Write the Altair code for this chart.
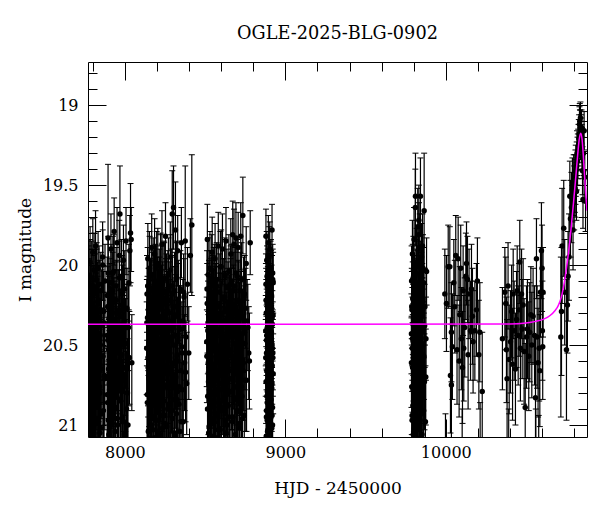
import altair as alt
import pandas as pd

FONT = "DejaVu Serif"

# ---- season 2017 ----
t1 = [7772, 7774, 7776, 7777, 7779, 7781, 7783, 7784, 7786, 7788,
      7790, 7791, 7793, 7795, 7797, 7798, 7800, 7802, 7804, 7806,
      7807, 7809, 7811, 7813, 7815, 7817, 7819, 7821, 7823, 7825,
      7827, 7829, 7831, 7833, 7835, 7838, 7840, 7842, 7845, 7847,
      7850, 7852, 7855, 7858, 7861, 7864, 7867, 7870, 7873, 7876,
      7889, 7891, 7893, 7895, 7897, 7899, 7901, 7903, 7905, 7907,
      7909, 7911, 7913, 7915, 7917, 7919, 7921, 7923, 7925, 7927,
      7929, 7931, 7933, 7935, 7937, 7939, 7941, 7943, 7945, 7947,
      7949, 7951, 7953, 7955, 7957, 7959, 7961, 7963, 7965, 7967,
      7969, 7971, 7973, 7975, 7977, 7979, 7981, 7983, 7985, 7987,
      7989, 7991, 7993, 7995, 7997, 7999, 8001, 8004, 8007, 8010,
      8013, 8016, 8019, 8022, 8025, 8028, 8031, 8035, 8039, 8043]
m1 = [20.45, 20.12, 20.78, 20.31, 21.02, 20.55, 19.98, 20.67, 20.24, 20.89,
      20.41, 21.15, 20.08, 20.62, 20.35, 20.95, 19.92, 20.51, 20.73, 20.18,
      21.08, 20.39, 20.84, 20.27, 20.58, 19.88, 20.99, 20.46, 20.14, 20.71,
      21.20, 20.33, 20.60, 20.02, 20.87, 20.43, 20.22, 20.76, 21.05, 20.50,
      20.16, 20.65, 20.37, 20.93, 19.95, 20.57, 20.29, 21.12, 20.69, 20.10,
      20.81, 20.44, 20.26, 19.83, 20.97, 20.53, 20.36, 20.74, 21.01, 20.20,
      20.63, 20.40, 19.90, 20.86, 20.48, 21.18, 20.30, 20.70, 20.05, 20.59,
      20.91, 20.34, 19.79, 20.66, 20.23, 21.04, 20.47, 20.82, 20.13, 20.55,
      20.38, 19.86, 20.96, 20.61, 20.28, 20.75, 21.10, 20.42, 19.94, 20.52,
      19.68, 20.68, 20.85, 20.32, 21.14, 20.07, 20.56, 20.79, 20.25, 20.98,
      20.44, 19.97, 20.72, 20.35, 21.06, 20.15, 20.64, 20.49, 19.85, 20.90,
      20.27, 20.80, 21.00, 20.39, 20.11, 20.58, 19.91, 19.80, 19.84, 20.61]
e1 = [0.27, 0.24, 0.33, 0.26, 0.38, 0.29, 0.22, 0.31, 0.25, 0.35,
      0.27, 0.41, 0.23, 0.30, 0.26, 0.36, 0.21, 0.28, 0.33, 0.24,
      0.39, 0.27, 0.34, 0.25, 0.29, 0.22, 0.37, 0.27, 0.24, 0.32,
      0.43, 0.26, 0.30, 0.23, 0.35, 0.27, 0.25, 0.33, 0.38, 0.28,
      0.24, 0.31, 0.26, 0.36, 0.22, 0.29, 0.25, 0.40, 0.31, 0.23,
      0.34, 0.27, 0.25, 0.46, 0.37, 0.28, 0.26, 0.33, 0.38, 0.24,
      0.30, 0.27, 0.22, 0.35, 0.28, 0.42, 0.26, 0.31, 0.23, 0.29,
      0.36, 0.26, 0.21, 0.31, 0.25, 0.38, 0.27, 0.34, 0.24, 0.29,
      0.26, 0.22, 0.37, 0.30, 0.25, 0.33, 0.40, 0.27, 0.22, 0.28,
      0.30, 0.31, 0.35, 0.26, 0.41, 0.23, 0.29, 0.34, 0.25, 0.37,
      0.27, 0.22, 0.32, 0.26, 0.39, 0.24, 0.30, 0.28, 0.21, 0.36,
      0.25, 0.34, 0.38, 0.27, 0.24, 0.29, 0.22, 0.31, 0.20, 0.30]
t1b = [7773, 7775, 7778, 7780, 7782, 7785, 7787, 7789, 7792, 7794,
       7796, 7799, 7801, 7803, 7805, 7808, 7810, 7812, 7814, 7816,
       7818, 7820, 7822, 7824, 7826, 7828, 7830, 7832, 7834, 7836,
       7839, 7843, 7846, 7849, 7853, 7857, 7862, 7866, 7871, 7875,
       7890, 7892, 7894, 7896, 7898, 7900, 7902, 7904, 7906, 7908,
       7910, 7912, 7914, 7916, 7918, 7920, 7922, 7924, 7926, 7928,
       7930, 7934, 7938, 7942, 7946, 7950, 7954, 7958, 7962, 7966,
       7970, 7974, 7978, 7982, 7986, 7990, 7996, 8002, 8012, 8024]
m1b = [20.62, 20.21, 20.94, 20.48, 20.07, 20.83, 20.35, 21.03, 20.56, 20.14,
       20.77, 20.40, 20.98, 20.26, 20.69, 20.03, 20.88, 20.45, 20.17, 20.73,
       21.09, 20.31, 20.60, 20.09, 20.85, 20.51, 20.23, 20.96, 20.38, 20.67,
       20.12, 20.80, 20.44, 21.02, 20.28, 20.57, 20.00, 20.91, 20.36, 20.71,
       20.19, 20.86, 20.47, 20.05, 20.65, 21.06, 20.33, 20.78, 20.24, 20.54,
       20.93, 20.41, 20.11, 20.70, 20.30, 20.99, 20.59, 20.16, 20.82, 20.46,
       20.04, 20.75, 20.37, 20.89, 20.22, 20.63, 21.00, 20.29, 20.53, 20.08,
       20.84, 20.43, 20.67, 20.18, 20.95, 20.50, 20.27, 20.72, 20.39, 20.58]
e1b = [0.30, 0.25, 0.36, 0.28, 0.23, 0.34, 0.26, 0.38, 0.29, 0.24,
       0.33, 0.27, 0.37, 0.25, 0.31, 0.23, 0.35, 0.28, 0.24, 0.32,
       0.39, 0.26, 0.30, 0.23, 0.34, 0.28, 0.25, 0.37, 0.27, 0.31,
       0.24, 0.33, 0.28, 0.38, 0.25, 0.30, 0.22, 0.36, 0.26, 0.32,
       0.24, 0.34, 0.28, 0.23, 0.31, 0.39, 0.26, 0.33, 0.25, 0.29,
       0.36, 0.27, 0.24, 0.32, 0.26, 0.37, 0.30, 0.24, 0.34, 0.28,
       0.23, 0.33, 0.27, 0.35, 0.25, 0.30, 0.38, 0.26, 0.29, 0.23,
       0.34, 0.28, 0.31, 0.24, 0.36, 0.29, 0.25, 0.32, 0.27, 0.30]

# ---- season 2018 ----
t2 = [8136, 8138, 8140, 8141, 8143, 8145, 8147, 8149, 8150, 8152,
      8154, 8156, 8158, 8160, 8161, 8163, 8165, 8167, 8169, 8171,
      8173, 8175, 8177, 8179, 8181, 8183, 8185, 8187, 8189, 8191,
      8193, 8195, 8197, 8199, 8201, 8203, 8205, 8207, 8209, 8211,
      8213, 8215, 8217, 8219, 8221, 8223, 8225, 8227, 8229, 8231,
      8233, 8235, 8237, 8239, 8241, 8243, 8245, 8247, 8249, 8251,
      8253, 8255, 8257, 8259, 8261, 8263, 8265, 8267, 8269, 8271,
      8273, 8275, 8277, 8279, 8281, 8283, 8285, 8287, 8289, 8291,
      8293, 8295, 8297, 8299, 8301, 8303, 8305, 8307, 8309, 8311,
      8313, 8315, 8317, 8319, 8321, 8323, 8325, 8327, 8329, 8331,
      8334, 8337, 8340, 8343, 8346, 8349, 8352, 8355, 8358, 8361,
      8364, 8368, 8372, 8376, 8380, 8385, 8390, 8398, 8408, 8417]
m2 = [20.52, 20.18, 20.86, 20.33, 19.96, 20.64, 21.09, 20.27, 20.71, 20.43,
      20.05, 20.92, 20.38, 20.59, 21.16, 20.21, 20.77, 19.89, 20.48, 20.66,
      20.30, 21.03, 20.14, 20.55, 20.83, 20.40, 19.93, 20.69, 20.25, 20.97,
      20.46, 20.11, 20.74, 21.11, 20.36, 20.61, 19.99, 20.88, 20.28, 20.53,
      20.80, 20.19, 21.06, 20.42, 20.67, 20.03, 20.94, 20.34, 20.57, 19.87,
      20.72, 20.23, 20.49, 21.13, 20.37, 20.85, 20.09, 20.63, 20.31, 20.99,
      19.82, 20.45, 20.76, 20.17, 21.01, 20.54, 20.29, 20.90, 20.41, 20.06,
      20.68, 20.35, 21.19, 20.58, 20.22, 19.95, 20.81, 20.47, 20.13, 20.73,
      20.39, 19.68, 20.96, 20.26, 20.62, 19.64, 20.50, 20.84, 20.16, 21.07,
      20.44, 19.78, 20.70, 20.32, 20.93, 20.08, 20.56, 20.79, 19.91, 20.60,
      20.24, 20.87, 20.40, 21.04, 20.15, 20.66, 19.86, 20.51, 20.78, 20.35,
      20.98, 20.20, 20.61, 19.85, 20.45, 20.74, 20.12, 20.55, 19.94, 19.75]
e2 = [0.29, 0.24, 0.35, 0.26, 0.22, 0.31, 0.40, 0.25, 0.32, 0.27,
      0.23, 0.36, 0.26, 0.29, 0.42, 0.24, 0.33, 0.21, 0.28, 0.31,
      0.25, 0.38, 0.23, 0.29, 0.34, 0.27, 0.22, 0.31, 0.25, 0.37,
      0.28, 0.23, 0.33, 0.41, 0.26, 0.30, 0.22, 0.35, 0.25, 0.28,
      0.34, 0.24, 0.39, 0.27, 0.31, 0.23, 0.36, 0.26, 0.29, 0.21,
      0.32, 0.25, 0.28, 0.41, 0.26, 0.35, 0.23, 0.30, 0.25, 0.37,
      0.21, 0.27, 0.33, 0.24, 0.38, 0.29, 0.25, 0.36, 0.27, 0.23,
      0.31, 0.26, 0.43, 0.30, 0.24, 0.22, 0.34, 0.28, 0.23, 0.32,
      0.27, 0.27, 0.36, 0.25, 0.30, 0.26, 0.28, 0.34, 0.24, 0.39,
      0.27, 0.30, 0.32, 0.26, 0.36, 0.23, 0.29, 0.33, 0.22, 0.30,
      0.25, 0.35, 0.27, 0.38, 0.24, 0.31, 0.22, 0.28, 0.33, 0.26,
      0.37, 0.24, 0.30, 0.47, 0.27, 0.32, 0.23, 0.29, 0.23, 0.44]
t2b = [8137, 8139, 8142, 8144, 8146, 8148, 8151, 8153, 8155, 8157,
       8159, 8162, 8164, 8166, 8168, 8170, 8172, 8174, 8176, 8178,
       8180, 8182, 8184, 8186, 8188, 8190, 8192, 8194, 8196, 8198,
       8200, 8202, 8204, 8206, 8208, 8210, 8212, 8214, 8216, 8218,
       8220, 8222, 8224, 8226, 8228, 8230, 8232, 8234, 8236, 8238,
       8240, 8244, 8248, 8252, 8256, 8260, 8264, 8268, 8272, 8276,
       8280, 8284, 8288, 8292, 8296, 8300, 8304, 8308, 8312, 8316,
       8320, 8324, 8328, 8333, 8338, 8344, 8350, 8357, 8366, 8378]
m2b = [20.36, 20.81, 20.13, 20.58, 21.04, 20.27, 20.69, 20.02, 20.90, 20.47,
       20.20, 20.74, 20.41, 21.00, 20.16, 20.63, 20.32, 20.95, 20.06, 20.54,
       20.86, 20.23, 20.66, 20.44, 21.08, 20.10, 20.77, 20.35, 20.59, 20.01,
       20.92, 20.49, 20.19, 20.71, 20.28, 20.97, 20.52, 20.14, 20.83, 20.38,
       20.61, 20.04, 20.88, 20.46, 20.25, 20.79, 20.12, 21.02, 20.57, 20.33,
       20.68, 20.08, 20.94, 20.42, 20.21, 20.75, 20.50, 20.15, 20.87, 20.30,
       20.64, 20.03, 20.91, 20.45, 20.18, 20.72, 20.37, 21.05, 20.26, 20.60,
       20.09, 20.84, 20.48, 20.22, 20.76, 20.40, 20.98, 20.55, 20.17, 20.67]
e2b = [0.27, 0.34, 0.24, 0.30, 0.38, 0.25, 0.32, 0.23, 0.36, 0.28,
       0.24, 0.33, 0.27, 0.37, 0.24, 0.31, 0.26, 0.36, 0.23, 0.29,
       0.35, 0.25, 0.31, 0.28, 0.39, 0.23, 0.33, 0.26, 0.30, 0.22,
       0.36, 0.28, 0.24, 0.32, 0.25, 0.37, 0.29, 0.24, 0.34, 0.27,
       0.30, 0.23, 0.35, 0.28, 0.25, 0.33, 0.24, 0.38, 0.29, 0.26,
       0.31, 0.23, 0.36, 0.27, 0.25, 0.33, 0.28, 0.24, 0.35, 0.26,
       0.31, 0.22, 0.36, 0.28, 0.24, 0.32, 0.27, 0.38, 0.25, 0.30,
       0.23, 0.34, 0.28, 0.25, 0.33, 0.27, 0.37, 0.29, 0.24, 0.31]

# ---- season 2019 ----
t3 = [8510, 8512, 8514, 8516, 8518, 8520, 8522, 8524, 8526, 8528,
      8530, 8532, 8534, 8536, 8538, 8540, 8542, 8544, 8546, 8548,
      8550, 8552, 8554, 8556, 8558, 8560, 8562, 8564, 8566, 8568,
      8570, 8572, 8574, 8576, 8578, 8580, 8582, 8584, 8586, 8588,
      8590, 8592, 8594, 8596, 8598, 8600, 8602, 8604, 8606, 8608,
      8610, 8612, 8614, 8616, 8618, 8620, 8622, 8624, 8626, 8628,
      8630, 8632, 8634, 8636, 8638, 8640, 8642, 8644, 8646, 8648,
      8650, 8652, 8654, 8656, 8658, 8660, 8662, 8664, 8666, 8668,
      8670, 8672, 8674, 8676, 8678, 8680, 8682, 8684, 8686, 8688,
      8690, 8692, 8694, 8696, 8698, 8700, 8702, 8704, 8706, 8708,
      8710, 8712, 8714, 8716, 8718, 8720, 8722, 8724, 8726, 8729,
      8732, 8735, 8738, 8742, 8746, 8750, 8756, 8762, 8772, 8781]
m3 = [20.48, 20.15, 19.84, 20.82, 20.36, 20.61, 21.05, 20.22, 20.70, 20.41,
      20.02, 20.89, 20.33, 20.57, 21.12, 20.19, 20.75, 19.92, 20.46, 20.64,
      20.28, 20.99, 20.12, 20.53, 20.80, 20.38, 19.96, 20.67, 20.24, 20.94,
      20.43, 20.09, 20.72, 21.08, 20.34, 20.59, 19.88, 20.86, 20.26, 20.51,
      20.78, 20.17, 21.03, 20.40, 20.65, 20.01, 20.91, 20.31, 20.55, 19.90,
      20.69, 20.21, 20.47, 21.15, 20.35, 20.83, 20.06, 20.62, 20.29, 20.97,
      19.85, 20.44, 20.73, 20.14, 21.00, 20.52, 20.27, 20.88, 20.39, 20.04,
      20.66, 20.32, 21.17, 20.56, 20.20, 19.93, 20.79, 20.45, 20.10, 20.71,
      20.37, 19.81, 20.95, 20.25, 20.60, 19.87, 20.49, 20.84, 20.13, 21.06,
      20.42, 19.83, 20.68, 20.30, 20.92, 20.07, 20.54, 20.77, 19.89, 20.58,
      20.23, 20.85, 20.38, 21.02, 20.16, 20.63, 19.82, 20.50, 20.76, 20.33,
      20.96, 19.69, 20.61, 20.40, 20.18, 20.72, 19.99, 20.35, 20.55, 19.86]
e3 = [0.28, 0.24, 0.22, 0.34, 0.26, 0.30, 0.38, 0.25, 0.32, 0.27,
      0.23, 0.35, 0.26, 0.29, 0.41, 0.24, 0.33, 0.22, 0.28, 0.31,
      0.25, 0.37, 0.23, 0.29, 0.34, 0.27, 0.22, 0.31, 0.25, 0.36,
      0.28, 0.23, 0.32, 0.40, 0.26, 0.30, 0.21, 0.35, 0.25, 0.28,
      0.33, 0.24, 0.38, 0.27, 0.31, 0.23, 0.36, 0.26, 0.29, 0.22,
      0.32, 0.25, 0.28, 0.42, 0.26, 0.34, 0.23, 0.30, 0.25, 0.37,
      0.21, 0.27, 0.33, 0.24, 0.38, 0.29, 0.25, 0.35, 0.27, 0.23,
      0.31, 0.26, 0.43, 0.30, 0.24, 0.22, 0.34, 0.28, 0.23, 0.32,
      0.27, 0.21, 0.36, 0.25, 0.30, 0.22, 0.28, 0.34, 0.24, 0.39,
      0.27, 0.22, 0.32, 0.26, 0.36, 0.23, 0.29, 0.33, 0.22, 0.30,
      0.25, 0.35, 0.27, 0.38, 0.24, 0.31, 0.21, 0.28, 0.33, 0.26,
      0.37, 0.24, 0.30, 0.27, 0.24, 0.32, 0.23, 0.26, 0.29, 0.20]
t3b = [8511, 8513, 8515, 8517, 8519, 8521, 8523, 8525, 8527, 8529,
       8531, 8533, 8535, 8537, 8539, 8541, 8543, 8545, 8547, 8549,
       8551, 8553, 8555, 8557, 8559, 8561, 8563, 8565, 8567, 8569,
       8571, 8575, 8579, 8583, 8587, 8591, 8595, 8599, 8603, 8607,
       8611, 8615, 8619, 8623, 8627, 8631, 8635, 8639, 8643, 8647,
       8651, 8655, 8659, 8663, 8667, 8671, 8675, 8679, 8683, 8687,
       8691, 8695, 8699, 8703, 8707, 8711, 8715, 8719, 8723, 8727,
       8730, 8733, 8736, 8740, 8744, 8748, 8752, 8758, 8766, 8776]
m3b = [20.57, 20.24, 20.90, 20.41, 20.06, 20.73, 20.32, 21.01, 20.50, 20.15,
       20.84, 20.38, 20.96, 20.21, 20.66, 20.03, 20.87, 20.44, 20.18, 20.70,
       21.07, 20.29, 20.62, 20.10, 20.81, 20.47, 20.26, 20.93, 20.35, 20.68,
       20.13, 20.78, 20.42, 21.03, 20.31, 20.55, 20.01, 20.89, 20.37, 20.74,
       20.20, 20.85, 20.48, 20.07, 20.64, 21.05, 20.34, 20.79, 20.23, 20.53,
       20.95, 20.40, 20.12, 20.71, 20.28, 20.98, 20.58, 20.16, 20.83, 20.45,
       20.05, 20.76, 20.36, 20.91, 20.22, 20.61, 20.99, 20.30, 20.52, 20.09,
       20.82, 20.43, 20.66, 20.19, 20.94, 20.49, 20.27, 20.72, 20.39, 20.60]
e3b = [0.29, 0.25, 0.35, 0.27, 0.23, 0.33, 0.26, 0.37, 0.28, 0.24,
       0.34, 0.27, 0.36, 0.25, 0.31, 0.22, 0.35, 0.28, 0.24, 0.32,
       0.38, 0.26, 0.30, 0.23, 0.33, 0.28, 0.25, 0.36, 0.27, 0.31,
       0.24, 0.33, 0.28, 0.37, 0.26, 0.29, 0.22, 0.35, 0.27, 0.32,
       0.24, 0.34, 0.28, 0.23, 0.30, 0.38, 0.26, 0.33, 0.25, 0.29,
       0.36, 0.27, 0.24, 0.32, 0.26, 0.37, 0.29, 0.24, 0.34, 0.28,
       0.23, 0.33, 0.27, 0.35, 0.25, 0.30, 0.37, 0.26, 0.29, 0.23,
       0.34, 0.28, 0.31, 0.24, 0.36, 0.29, 0.25, 0.32, 0.27, 0.30]

# ---- season 2020 ----
t4 = [8878, 8879, 8880, 8881, 8882, 8883, 8884, 8885, 8886, 8887,
      8888, 8889, 8890, 8891, 8892, 8893, 8894, 8895, 8896, 8897,
      8898, 8899, 8900, 8901, 8902, 8903, 8904, 8905, 8906, 8907,
      8908, 8909, 8910, 8911, 8912, 8913, 8914, 8915, 8916, 8917,
      8918, 8919, 8920, 8921, 8922, 8923, 8924, 8879, 8883, 8887,
      8891, 8895, 8899, 8903, 8907, 8911, 8915, 8919, 8881, 8909]
m4 = [20.41, 20.12, 20.73, 20.30, 20.95, 20.55, 19.97, 20.66, 20.24, 20.86,
      20.39, 21.04, 20.08, 20.60, 20.33, 20.92, 19.86, 20.49, 20.78, 20.18,
      21.10, 20.36, 20.81, 20.27, 20.57, 19.90, 20.99, 20.44, 20.14, 20.70,
      20.21, 20.53, 20.02, 20.84, 20.46, 20.26, 20.75, 21.02, 20.50, 19.78,
      20.63, 20.37, 20.89, 20.05, 20.58, 20.31, 20.68, 19.82, 20.47, 20.97,
      20.20, 20.62, 19.94, 20.85, 20.40, 20.10, 20.77, 20.52, 21.07, 20.29]
e4 = [0.22, 0.19, 0.26, 0.21, 0.30, 0.23, 0.18, 0.25, 0.20, 0.28,
      0.22, 0.32, 0.18, 0.24, 0.21, 0.29, 0.17, 0.23, 0.27, 0.19,
      0.33, 0.21, 0.27, 0.20, 0.24, 0.17, 0.31, 0.22, 0.19, 0.26,
      0.20, 0.23, 0.18, 0.28, 0.22, 0.20, 0.26, 0.31, 0.23, 0.16,
      0.24, 0.21, 0.29, 0.18, 0.24, 0.21, 0.25, 0.17, 0.22, 0.30,
      0.19, 0.24, 0.18, 0.28, 0.22, 0.19, 0.27, 0.23, 0.33, 0.20]
t4b = [8878, 8880, 8882, 8884, 8886, 8888, 8890, 8892, 8894, 8896,
       8898, 8900, 8902, 8904, 8906, 8908, 8910, 8912, 8914, 8916,
       8918, 8920, 8922, 8924, 8885, 8893, 8901, 8913, 8917, 8921]
m4b = [20.58, 20.22, 20.91, 20.44, 20.07, 20.79, 20.35, 21.03, 20.52, 20.15,
       20.69, 20.28, 20.96, 20.40, 20.61, 20.03, 20.87, 20.48, 20.19, 20.74,
       20.33, 21.00, 20.55, 20.11, 20.82, 20.25, 20.65, 20.42, 20.94, 20.09]
e4b = [0.24, 0.20, 0.29, 0.22, 0.19, 0.27, 0.21, 0.32, 0.23, 0.19,
       0.25, 0.21, 0.30, 0.22, 0.24, 0.18, 0.28, 0.23, 0.19, 0.26,
       0.21, 0.31, 0.23, 0.19, 0.27, 0.20, 0.25, 0.22, 0.30, 0.19]

# ---- season 2022 ----
t5 = [9786, 9787, 9788, 9789, 9790, 9791, 9792, 9793, 9794, 9795,
      9796, 9797, 9798, 9799, 9800, 9801, 9802, 9803, 9804, 9805,
      9806, 9807, 9808, 9809, 9810, 9811, 9812, 9813, 9814, 9815,
      9816, 9817, 9818, 9819, 9820, 9821, 9822, 9823, 9824, 9825,
      9826, 9827, 9828, 9829, 9830, 9831, 9832, 9833, 9834, 9835,
      9836, 9837, 9838, 9839, 9840, 9841, 9842, 9843, 9844, 9845,
      9846, 9847, 9848, 9849, 9850, 9851, 9852, 9853, 9854, 9855,
      9857, 9859, 9861, 9863, 9865, 9867, 9870, 9873, 9876, 9880]
m5 = [20.43, 20.10, 20.76, 20.28, 20.97, 20.52, 19.93, 20.64, 20.21, 20.88,
      20.37, 21.06, 20.03, 20.58, 20.31, 20.91, 19.84, 20.47, 20.72, 20.16,
      21.11, 20.34, 20.83, 20.25, 20.55, 19.57, 20.99, 20.42, 20.12, 20.69,
      20.19, 20.51, 19.98, 20.86, 20.44, 20.23, 20.74, 21.03, 20.48, 19.76,
      20.61, 20.35, 20.90, 20.01, 20.56, 20.29, 20.67, 19.81, 20.45, 20.95,
      20.18, 20.60, 19.89, 20.84, 20.38, 20.07, 19.57, 20.53, 21.08, 20.27,
      20.70, 20.14, 20.79, 19.95, 20.49, 20.32, 20.93, 20.22, 20.65, 19.88,
      20.40, 20.81, 20.11, 20.57, 19.66, 20.73, 20.26, 20.98, 20.46, 20.04]
e5 = [0.25, 0.22, 0.30, 0.24, 0.34, 0.27, 0.21, 0.28, 0.23, 0.32,
      0.25, 0.37, 0.21, 0.27, 0.24, 0.33, 0.20, 0.26, 0.30, 0.22,
      0.38, 0.24, 0.31, 0.23, 0.27, 0.27, 0.35, 0.25, 0.22, 0.29,
      0.23, 0.26, 0.21, 0.32, 0.25, 0.23, 0.30, 0.36, 0.26, 0.24,
      0.28, 0.24, 0.33, 0.21, 0.27, 0.24, 0.29, 0.20, 0.26, 0.34,
      0.22, 0.28, 0.21, 0.32, 0.25, 0.22, 0.24, 0.27, 0.37, 0.24,
      0.29, 0.22, 0.31, 0.21, 0.26, 0.24, 0.33, 0.23, 0.28, 0.20,
      0.25, 0.31, 0.22, 0.27, 0.36, 0.30, 0.24, 0.35, 0.26, 0.21]
t5b = [9786, 9788, 9790, 9792, 9794, 9796, 9798, 9800, 9802, 9804,
       9806, 9808, 9810, 9812, 9814, 9816, 9818, 9820, 9822, 9824,
       9826, 9828, 9830, 9832, 9834, 9836, 9838, 9840, 9842, 9844,
       9846, 9848, 9850, 9852, 9854, 9856, 9858, 9862, 9868, 9875]
m5b = [20.61, 20.26, 20.94, 20.46, 20.09, 20.78, 20.33, 21.04, 20.53, 20.17,
       20.86, 20.40, 19.64, 20.22, 20.68, 20.05, 20.89, 20.48, 20.14, 20.72,
       21.01, 20.30, 20.59, 19.72, 20.83, 20.44, 20.20, 20.97, 20.36, 20.65,
       20.11, 20.80, 20.42, 21.06, 20.27, 20.56, 20.02, 20.91, 20.38, 20.70]
e5b = [0.28, 0.24, 0.33, 0.26, 0.22, 0.30, 0.25, 0.36, 0.27, 0.23,
       0.32, 0.26, 0.24, 0.24, 0.29, 0.21, 0.33, 0.27, 0.23, 0.30,
       0.35, 0.25, 0.28, 0.22, 0.31, 0.26, 0.23, 0.34, 0.25, 0.29,
       0.22, 0.31, 0.26, 0.37, 0.24, 0.28, 0.21, 0.33, 0.26, 0.30]

# ---- season 2023 ----
t6 = [9994, 10004, 10015, 10025, 10029, 10035, 10035, 10041, 10050, 10056,
      10062, 10070, 10077, 10083, 10087, 10093, 10097, 10104, 10108, 10112,
      10118, 10125, 10129, 10135, 10139, 10145, 10154, 10160, 10166, 10170,
      10181, 10191, 10197, 10206, 10212, 10227, 9998, 10102, 10214]
m6 = [20.18, 20.24, 20.01, 20.01, 20.69, 20.75, 20.42, 20.51, 20.11, 20.26,
      19.94, 20.53, 19.96, 20.60, 20.31, 20.02, 20.46, 20.64, 20.16, 20.52,
      20.39, 20.07, 19.99, 20.09, 20.56, 20.18, 20.41, 20.15, 20.32, 20.48,
      20.41, 20.28, 20.10, 20.56, 20.42, 20.79, 21.25, 21.20, 21.18]
e6 = [0.28, 0.30, 0.26, 0.25, 0.36, 0.38, 0.31, 0.33, 0.27, 0.29,
      0.25, 0.34, 0.26, 0.35, 0.30, 0.27, 0.32, 0.35, 0.28, 0.33,
      0.31, 0.27, 0.26, 0.27, 0.34, 0.28, 0.31, 0.28, 0.30, 0.32,
      0.31, 0.29, 0.27, 0.34, 0.31, 0.37, 0.32, 0.30, 0.32]

# ---- season 2024 ----
t7 = [10353, 10368, 10374, 10378, 10382, 10388, 10395, 10403, 10410, 10416,
      10420, 10426, 10434, 10441, 10445, 10451, 10457, 10461, 10465, 10472,
      10476, 10482, 10488, 10495, 10503, 10509, 10517, 10523, 10530, 10536,
      10544, 10553, 10559, 10565, 10569, 10575, 10582, 10586, 10590, 10596,
      10600, 10602, 10604, 10606, 10392, 10561, 10579]
m7 = [20.46, 20.17, 20.24, 20.53, 20.71, 20.13, 20.59, 20.48, 20.29, 20.62,
      20.18, 20.41, 20.65, 20.34, 20.16, 20.44, 20.28, 19.98, 20.52, 20.18,
      20.40, 20.25, 20.54, 20.89, 20.45, 20.40, 20.57, 20.42, 20.31, 20.50,
      20.32, 20.44, 20.83, 19.96, 20.45, 20.61, 20.52, 20.66, 20.17, 19.91,
      20.02, 20.41, 20.51, 20.17, 21.22, 21.20, 21.25]
e7 = [0.32, 0.28, 0.29, 0.33, 0.37, 0.27, 0.34, 0.32, 0.29, 0.35,
      0.28, 0.31, 0.35, 0.30, 0.28, 0.31, 0.29, 0.26, 0.33, 0.28,
      0.31, 0.29, 0.33, 0.40, 0.32, 0.31, 0.34, 0.31, 0.30, 0.33,
      0.30, 0.31, 0.39, 0.25, 0.32, 0.34, 0.33, 0.35, 0.28, 0.30,
      0.27, 0.31, 0.33, 0.28, 0.32, 0.30, 0.31]

# ---- season 2025 (event) ----
t8 = [10717, 10721, 10725, 10735, 10741, 10752, 10758, 10762, 10768, 10773,
      10777, 10783, 10789, 10793, 10797, 10804, 10808, 10810, 10814, 10818,
      10821, 10825, 10827, 10831, 10833, 10835, 10838, 10841, 10844, 10846,
      10849, 10852, 10855, 10858, 10862, 10866, 10871,
      10829, 10836, 10843, 10847, 10851, 10839, 10823, 10816, 10806, 10800]
m8 = [20.45, 20.29, 19.88, 19.77, 20.17, 20.53, 20.25, 20.07, 19.95, 19.57,
      19.71, 19.64, 19.53, 19.78, 19.50, 19.49, 19.45, 19.41, 19.54, 19.30,
      19.35, 19.28, 19.25, 19.18, 19.12, 19.10, 19.15, 19.22, 19.20, 19.14,
      19.27, 19.41, 19.59, 19.30, 19.16, 19.45, 19.60,
      19.21, 19.14, 19.17, 19.24, 19.33, 19.08, 19.32, 19.38, 19.52, 19.58]
e8 = [0.50, 0.40, 0.36, 0.30, 0.33, 0.44, 0.30, 0.28, 0.27, 0.22,
      0.24, 0.22, 0.20, 0.25, 0.19, 0.18, 0.17, 0.16, 0.18, 0.14,
      0.15, 0.13, 0.13, 0.12, 0.11, 0.11, 0.12, 0.12, 0.12, 0.11,
      0.13, 0.15, 0.18, 0.14, 0.12, 0.16, 0.19,
      0.12, 0.11, 0.11, 0.12, 0.13, 0.10, 0.14, 0.15, 0.18, 0.20]

# ---- model curve ----
model_t = [7770, 10400, 10500, 10560, 10610, 10650, 10680, 10700, 10720, 10740,
           10760, 10780, 10795, 10810, 10822, 10832, 10841, 10850, 10858, 10866,
           10874, 10880]
model_m = [20.37, 20.368, 20.362, 20.352, 20.338, 20.315, 20.285, 20.255, 20.20, 20.10,
           19.96, 19.78, 19.62, 19.45, 19.31, 19.21, 19.175, 19.22, 19.33, 19.46,
           19.58, 19.66]

# ---- axis ticks ----
x_major = [8000, 9000, 10000]
x_minor = [7800, 8200, 8400, 8600, 8800, 9200, 9400, 9600, 9800, 10200, 10400, 10600, 10800]
y_major = [19, 19.5, 20, 20.5, 21]
y_minor = [18.8, 18.9, 19.1, 19.2, 19.3, 19.4, 19.6, 19.7, 19.8, 19.9,
           20.1, 20.2, 20.3, 20.4, 20.6, 20.7, 20.8, 20.9]

hjd, mag, err = [], [], []
for T, M, E in [(t1, m1, e1), (t1b, m1b, e1b), (t2, m2, e2), (t2b, m2b, e2b),
                (t3, m3, e3), (t3b, m3b, e3b), (t4, m4, e4), (t4b, m4b, e4b),
                (t5, m5, e5), (t5b, m5b, e5b), (t6, m6, e6), (t7, m7, e7),
                (t8, m8, e8)]:
    for a, b, c in zip(T, M, E):
        hjd.append(a)
        mag.append(b)
        err.append(c)
df = pd.DataFrame({"hjd": hjd, "mag": mag, "err": err})
df["lo"] = (df["mag"] - df["err"]).round(3)
df["hi"] = (df["mag"] + df["err"]).round(3)
model = pd.DataFrame({"hjd": model_t, "mag": model_m})

xs = alt.Scale(domain=[7770, 10880], nice=False, zero=False)
ys = alt.Scale(domain=[18.73, 21.075], reverse=True, nice=False, zero=False)


def tick_axis(orient, values, size):
    return alt.Axis(orient=orient, values=values, labels=False, domain=False,
                    grid=False, ticks=True, tickSize=size, offset=-size,
                    tickColor="black", tickWidth=1, title="")


xlab = alt.Axis(orient="bottom", values=x_major, format="d", ticks=False, tickSize=0,
                domain=False, grid=False, labelFont=FONT, labelFontSize=16,
                labelColor="black", labelPadding=7, labelFlush=False,
                title="HJD - 2450000", titleFont=FONT, titleFontSize=17,
                titleFontWeight="normal", titleColor="black", titlePadding=20)
ylab = alt.Axis(orient="left", values=y_major, format="~g", ticks=False, tickSize=0,
                domain=False, grid=False, labelFont=FONT, labelFontSize=16,
                labelColor="black", labelPadding=10, labelFlush=False,
                title="I magnitude", titleFont=FONT, titleFontSize=17,
                titleFontWeight="normal", titleColor="black", titlePadding=8)

base = alt.Chart(df)

bars = base.mark_rule(color="black", strokeWidth=1.2, clip=True).encode(
    x=alt.X("hjd:Q", scale=xs, axis=xlab),
    y=alt.Y("lo:Q", scale=ys, axis=ylab),
    y2="hi:Q",
)
caps_lo = base.mark_tick(orient="horizontal", size=6, thickness=1, color="black",
                         opacity=1, clip=True).encode(
    x=alt.X("hjd:Q", scale=xs, axis=tick_axis("bottom", x_major, 18)),
    y=alt.Y("lo:Q", scale=ys, axis=tick_axis("left", y_major, 18)),
)
caps_hi = base.mark_tick(orient="horizontal", size=6, thickness=1, color="black",
                         opacity=1, clip=True).encode(
    x=alt.X("hjd:Q", scale=xs, axis=tick_axis("bottom", x_minor, 9)),
    y=alt.Y("hi:Q", scale=ys, axis=tick_axis("left", y_minor, 9)),
)
pts = base.mark_circle(size=30, color="black", opacity=1, clip=True).encode(
    x=alt.X("hjd:Q", scale=xs, axis=tick_axis("top", x_major, 18)),
    y=alt.Y("mag:Q", scale=ys, axis=tick_axis("right", y_major, 18)),
)
line = alt.Chart(model).mark_line(color="#ff00ff", strokeWidth=1.5,
                                  interpolate="monotone", clip=True).encode(
    x=alt.X("hjd:Q", scale=xs, axis=tick_axis("top", x_minor, 9)),
    y=alt.Y("mag:Q", scale=ys, axis=tick_axis("right", y_minor, 9)),
)

chart = alt.layer(bars, caps_lo, caps_hi, pts, line).resolve_axis(
    x="independent", y="independent"
).properties(
    width=499,
    height=375,
    title=alt.TitleParams("OGLE-2025-BLG-0902", font=FONT, fontSize=17.7,
                          fontWeight="normal", color="black", anchor="middle",
                          frame="group", baseline="alphabetic", offset=5),
    padding={"left": 80, "top": 54, "right": 5, "bottom": 67},
    autosize=alt.AutoSizeParams(type="none"),
).configure_view(stroke="black", strokeWidth=1)

chart.save("out.html", embed_options={"renderer": "svg", "actions": False})
